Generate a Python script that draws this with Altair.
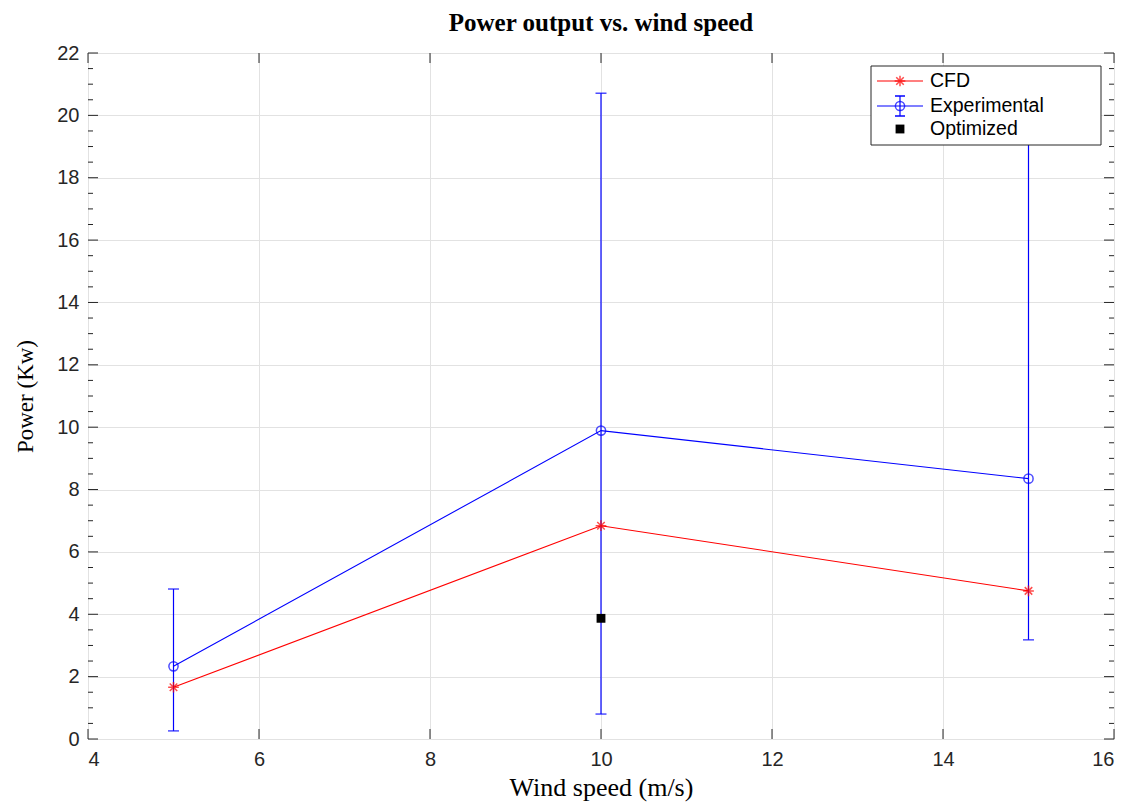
import altair as alt
import pandas as pd

# ---- data ----
wind = [5, 10, 15]
cfd = [1.66, 6.84, 4.75]
exp = [2.33, 9.89, 8.35]
exp_low = [0.26, 0.80, 3.18]
exp_high = [4.81, 20.71, 20.60]
opt_wind = [10]
opt_power = [3.87]

x_ticks = [4, 6, 8, 10, 12, 14, 16]
y_ticks = [0, 2, 4, 6, 8, 10, 12, 14, 16, 18, 20, 22]
y_minor = [i * 0.5 for i in range(0, 45) if i % 4 != 0]

legend_labels = ["CFD", "Experimental", "Optimized"]

W, H = 1026, 686
RED = "#ff0000"
BLUE = "#0000ff"
SANS = "Liberation Sans"
SERIF = "Liberation Serif"
STAR = "M-1,0L1,0M0,-1L0,1M-0.7,-0.7L0.7,0.7M-0.7,0.7L0.7,-0.7"

df = pd.DataFrame({"wind": wind, "cfd": cfd, "exp": exp, "lo": exp_low, "hi": exp_high})
dopt = pd.DataFrame({"wind": opt_wind, "power": opt_power})

xscale = alt.Scale(domain=[4, 16], nice=False, zero=False)
yscale = alt.Scale(domain=[0, 22], nice=False, zero=False)
xaxis = alt.Axis(values=x_ticks, grid=True, gridColor="#e2e2e2", tickSize=0, domain=False,
                 labelFont=SANS, labelFontSize=20, labelColor="#262626", labelPadding=10,
                 title="Wind speed (m/s)", titleFont=SERIF, titleFontSize=26,
                 titleFontWeight="normal", titleColor="#000000", titlePadding=5)
yaxis = alt.Axis(values=y_ticks, grid=True, gridColor="#e2e2e2", tickSize=0, domain=False,
                 labelFont=SANS, labelFontSize=20, labelColor="#262626", labelPadding=9,
                 title="Power (Kw)", titleFont=SERIF, titleFontSize=23,
                 titleFontWeight="normal", titleColor="#000000", titlePadding=19)


def X(f):
    return alt.X(f, type="quantitative", scale=xscale, axis=xaxis)


def Y(f):
    return alt.Y(f, type="quantitative", scale=yscale, axis=yaxis)


base = alt.Chart(df)

# error bars
err = base.mark_rule(color=BLUE, strokeWidth=1.2).encode(x=X("wind"), y=Y("lo"), y2="hi")
cap_lo = base.mark_tick(color=BLUE, orient="horizontal", size=11, thickness=1.5).encode(x=X("wind"), y=Y("lo"))
cap_hi = base.mark_tick(color=BLUE, orient="horizontal", size=11, thickness=1.5).encode(x=X("wind"), y=Y("hi"))

exp_line = base.mark_line(color=BLUE, strokeWidth=1.1).encode(x=X("wind"), y=Y("exp"))
exp_pts = base.mark_point(shape="circle", filled=False, color=BLUE, size=85, strokeWidth=1.5).encode(x=X("wind"), y=Y("exp"))
cfd_line = base.mark_line(color=RED, strokeWidth=1.1).encode(x=X("wind"), y=Y("cfd"))
cfd_pts = base.mark_point(shape=STAR, filled=False, color=RED, size=115, strokeWidth=1.5).encode(x=X("wind"), y=Y("cfd"))
opt_pts = alt.Chart(dopt).mark_point(shape="square", filled=True, color="#000000", size=78, opacity=1).encode(x=X("wind"), y=Y("power"))

# inward ticks (MATLAB box style)
dxt = pd.DataFrame({"v": x_ticks})
dyt = pd.DataFrame({"v": y_ticks})
dym = pd.DataFrame({"v": y_minor})
TC = "#262626"
tick_layers = [
    alt.Chart(dxt).mark_rule(color=TC, strokeWidth=1).encode(x=X("v"), y=alt.value(H), y2=alt.value(H - 10)),
    alt.Chart(dxt).mark_rule(color=TC, strokeWidth=1).encode(x=X("v"), y=alt.value(0), y2=alt.value(10)),
    alt.Chart(dyt).mark_rule(color=TC, strokeWidth=1).encode(y=Y("v"), x=alt.value(0), x2=alt.value(10)),
    alt.Chart(dyt).mark_rule(color=TC, strokeWidth=1).encode(y=Y("v"), x=alt.value(W), x2=alt.value(W - 10)),
    alt.Chart(dym).mark_rule(color=TC, strokeWidth=1).encode(y=Y("v"), x=alt.value(0), x2=alt.value(5)),
    alt.Chart(dym).mark_rule(color=TC, strokeWidth=1).encode(y=Y("v"), x=alt.value(W), x2=alt.value(W - 5)),
]

# legend (drawn manually)
one = pd.DataFrame({"a": [0]})
LX0, LX1 = 783, 1013
LY0, LY1 = 13, 92
rows = [28, 53, 76]
sx0, sx1, sc, tx = 789, 835, 812, 842
leg = [
    alt.Chart(one).mark_rect(fill="white", stroke=TC, strokeWidth=1).encode(
        x=alt.value(LX0), x2=alt.value(LX1), y=alt.value(LY0), y2=alt.value(LY1)),
    alt.Chart(one).mark_rule(color=RED, strokeWidth=1.1).encode(
        x=alt.value(sx0), x2=alt.value(sx1), y=alt.value(rows[0])),
    alt.Chart(one).mark_point(shape=STAR, filled=False, color=RED, size=115, strokeWidth=1.5).encode(
        x=alt.value(sc), y=alt.value(rows[0])),
    alt.Chart(one).mark_rule(color=BLUE, strokeWidth=1.1).encode(
        x=alt.value(sx0), x2=alt.value(sx1), y=alt.value(rows[1])),
    alt.Chart(one).mark_rule(color=BLUE, strokeWidth=1.2).encode(
        x=alt.value(sc), y=alt.value(rows[1] - 10), y2=alt.value(rows[1] + 10)),
    alt.Chart(one).mark_rule(color=BLUE, strokeWidth=1.5).encode(
        x=alt.value(sc - 5), x2=alt.value(sc + 5), y=alt.value(rows[1] - 10)),
    alt.Chart(one).mark_rule(color=BLUE, strokeWidth=1.5).encode(
        x=alt.value(sc - 5), x2=alt.value(sc + 5), y=alt.value(rows[1] + 10)),
    alt.Chart(one).mark_point(shape="circle", filled=False, color=BLUE, size=85, strokeWidth=1.5).encode(
        x=alt.value(sc), y=alt.value(rows[1])),
    alt.Chart(one).mark_point(shape="square", filled=True, color="#000000", size=78, opacity=1).encode(
        x=alt.value(sc), y=alt.value(rows[2])),
]
for lbl, ry in zip(legend_labels, rows):
    leg.append(alt.Chart(pd.DataFrame({"t": [lbl]})).mark_text(
        align="left", baseline="middle", font=SANS, fontSize=19.5, color="#000000").encode(
        x=alt.value(tx), y=alt.value(ry), text="t:N"))

chart = alt.layer(
    err, cap_lo, cap_hi, exp_line, cfd_line, exp_pts, cfd_pts, opt_pts, *tick_layers, *leg
).properties(
    width=W, height=H,
    title=alt.Title("Power output vs. wind speed", font=SERIF, fontSize=25, fontWeight="bold",
                    color="#000000", anchor="middle", offset=7),
    autosize=alt.AutoSizeParams(type="none"),
    padding={"left": 88, "top": 53, "right": 15, "bottom": 64},
).configure_view(stroke=TC, strokeWidth=1).configure(background="white")

chart.save("out.html", embed_options={"renderer": "svg", "actions": False})
